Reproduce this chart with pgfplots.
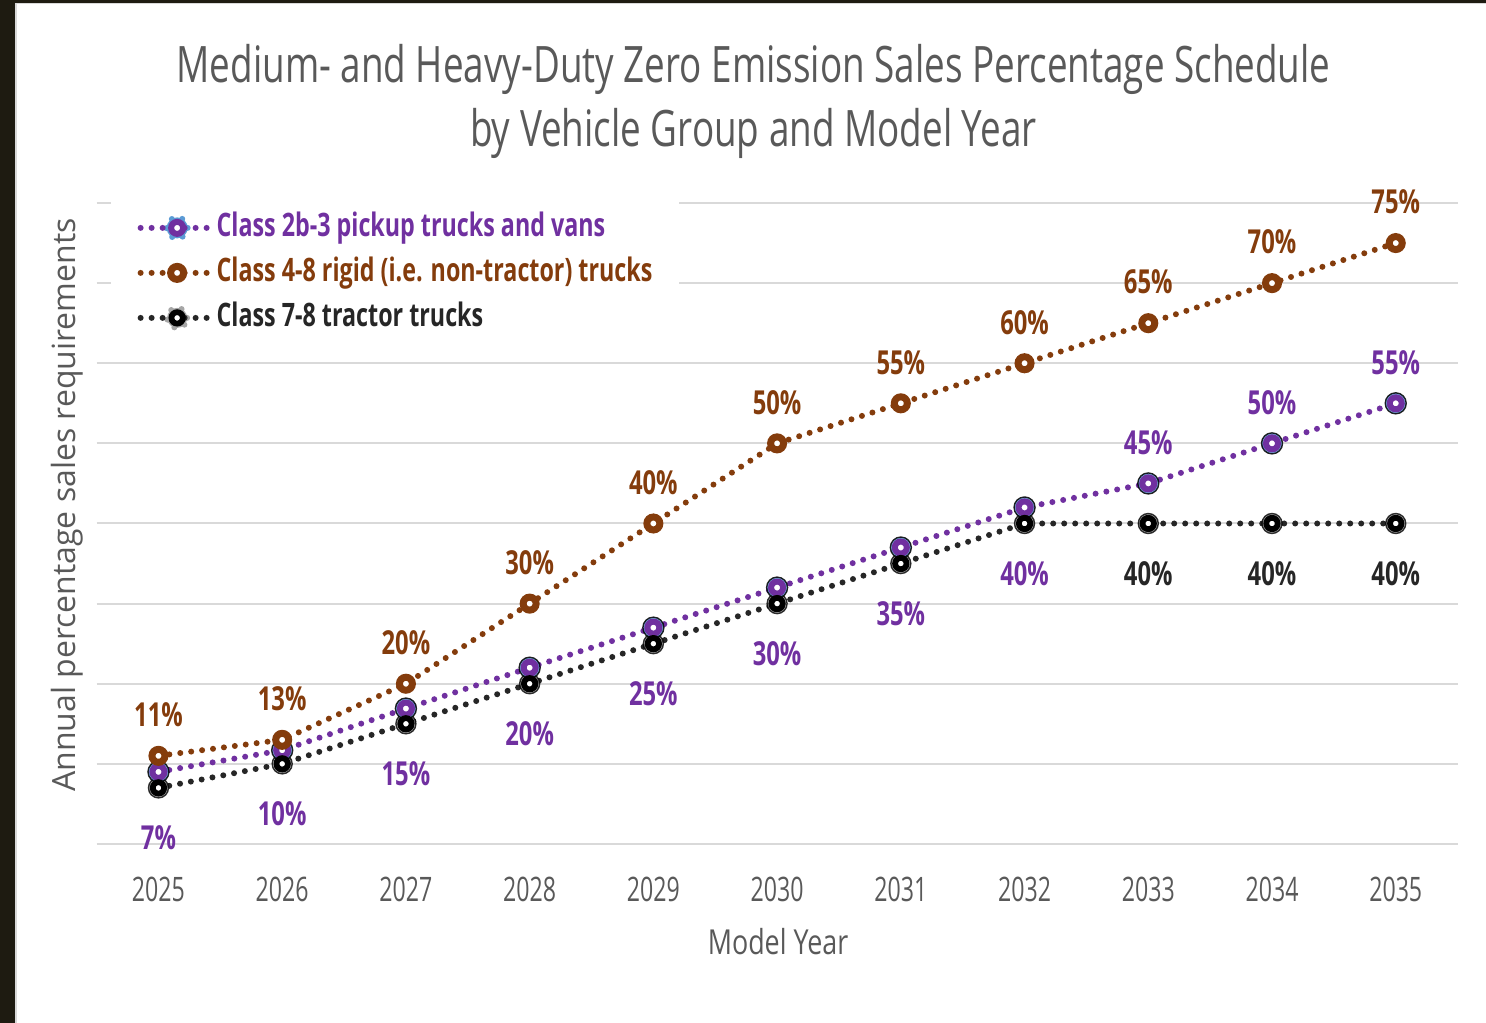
\documentclass[border=0pt]{standalone}
\usepackage{pgfplots}
\pgfplotsset{compat=1.18}
\usepackage{fontspec}
\setmainfont{Open Sans}
\newfontfamily\titlefont[FakeStretch=0.733]{Open Sans}
\newfontfamily\tickfont[FakeStretch=0.686]{Open Sans}
\newfontfamily\xlabfont[FakeStretch=0.78]{Open Sans}
\newfontfamily\ylabfont[FakeStretch=1.0]{Open Sans}
\newfontfamily\boldfont[FakeStretch=0.72]{Open Sans}
\definecolor{purp}{HTML}{7030A0}
\definecolor{brn}{HTML}{843C0C}
\definecolor{blk}{HTML}{262626}
\definecolor{txtgray}{HTML}{595959}
\definecolor{gridc}{HTML}{D9D9D9}
\definecolor{glowblue}{HTML}{5B9BD5}
\definecolor{glowgray}{HTML}{A6A6A6}
\definecolor{framec}{HTML}{1E1B11}

\pgfplotsset{
  baseleg/.style={legend image code/.code={\draw[mark repeat=2,mark phase=2,##1] plot coordinates {(0cm,0cm) (0.365cm,0cm) (0.73cm,0cm)};}},
  purpleg/.style={legend image code/.code={\fill[glowblue] (0.365cm,0cm) circle (0.105cm);\draw[mark repeat=2,mark phase=2,##1] plot coordinates {(0cm,0cm) (0.365cm,0cm) (0.73cm,0cm)};}},
  blkleg/.style={legend image code/.code={\fill[glowgray] (0.365cm,0cm) circle (0.1cm);\draw[mark repeat=2,mark phase=2,##1] plot coordinates {(0cm,0cm) (0.365cm,0cm) (0.73cm,0cm)};}},
}

\pgfplotstableread{
year val
2025 9
2026 11.7
2027 16.9
2028 22
2029 27
2030 32
2031 37
2032 42
2033 45
2034 50
2035 55
}\purpdata
\pgfplotstableread{
year val
2025 11
2026 13
2027 20
2028 30
2029 40
2030 50
2031 55
2032 60
2033 65
2034 70
2035 75
}\brndata
\pgfplotstableread{
year val
2025 7
2026 10
2027 15
2028 20
2029 25
2030 30
2031 35
2032 40
2033 40
2034 40
2035 40
}\blkdata
\pgfplotstableread{
year val
2025 7
2026 10
2027 15
2028 20
2029 25
2030 30
2031 35
2032 40
}\purplabdata
\pgfplotstableread{
year val
2033 40
2034 40
2035 40
}\blklabdata
\pgfplotstableread{
year val
2033 45
2034 50
2035 55
}\purplabtop

\begin{document}
\begin{tikzpicture}[x=1cm,y=1cm]
\path[use as bounding box] (0,0) rectangle (14.86,10.23);
\fill[framec] (0,0) rectangle (0.15,10.23);
\fill[framec] (0,10.20) rectangle (14.86,10.23);
\draw[gray!30, line width=0.015cm] (0.158,0) -- (0.158,10.195) -- (14.86,10.195);

\node[font=\titlefont\fontsize{14.3}{17}\selectfont, text=txtgray, anchor=base] at (7.535,9.40) {Medium- and Heavy-Duty Zero Emission Sales Percentage Schedule};
\node[font=\titlefont\fontsize{14.3}{17}\selectfont, text=txtgray, anchor=base] at (7.535,8.76) {by Vehicle Group and Model Year};
\node[font=\ylabfont\fontsize{9.1}{11}\selectfont, text=txtgray, anchor=base, rotate=90] at (0.75,5.18) {Annual percentage sales requirements};
\node[font=\xlabfont\fontsize{9.8}{12}\selectfont, text=txtgray, anchor=base] at (7.78,0.68) {Model Year};

\begin{axis}[
  at={(0.966cm,1.79cm)}, anchor=south west, scale only axis,
  width=13.61cm, height=6.41cm,
  xmin=2024.5, xmax=2035.5, ymin=0, ymax=80,
  clip=false,
  axis line style={draw=none},
  major tick length=0pt,
  xtick={2025,2026,...,2035},
  ytick={0,10,...,80}, yticklabels={},
  ymajorgrids, grid style={gridc, line width=0.02cm},
  /pgf/number format/assume math mode=true,
  /pgf/number format/1000 sep={},
  xticklabel style={font=\tickfont\fontsize{9.6}{12}\selectfont, text=txtgray, anchor=base, yshift=-0.58cm},
  legend style={at={(0.0098,1.020)}, anchor=north west, draw=none, fill=white,
    font=\boldfont\bfseries\fontsize{9.2}{11}\selectfont, inner xsep=0.27cm, inner ysep=0.21cm,
    row sep=0.13cm,
    nodes={inner sep=0pt, text height=0.25cm, text depth=0.07cm},
    /tikz/every even column/.append style={column sep=0.07cm}},
  legend cell align=left,
  baseleg,
  lab/.style={draw=none, mark=none, forget plot, nodes near coords={\pgfmathprintnumber{\pgfplotspointmeta}\%}, point meta=y,
    every node near coord/.append style={font=\boldfont\bfseries\fontsize{9.4}{11}\selectfont, anchor=center, inner sep=0pt}},
  ser/.style={line width=0.06cm, dash pattern=on 0pt off 0.11cm, line cap=round, mark=*},
]
% black glow
\addplot[forget plot, only marks, mark=*, mark size=0.1cm, mark options={fill=glowgray, draw=none, opacity=0.8}] table[x=year,y=val] {\blkdata};
% purple glow
\addplot[forget plot, only marks, mark=*, mark size=0.105cm, mark options={fill=glowblue, draw=none, opacity=0.85}] table[x=year,y=val] {\purpdata};

\addplot[purp, ser, mark size=0.06cm, mark options={solid, fill=white, draw=purp, line width=0.06cm}, purpleg]
  table[x=year,y=val] {\purpdata};
\addlegendentry{\textcolor{purp}{Class 2b-3 pickup trucks and vans}}

\addplot[brn, ser, mark size=0.065cm, mark options={solid, fill=white, draw=brn, line width=0.07cm}]
  table[x=year,y=val] {\brndata};
\addlegendentry{\textcolor{brn}{Class 4-8 rigid (i.e. non-tractor) trucks}}

\addplot[blk, ser, mark size=0.057cm, mark options={solid, fill=white, draw=black, line width=0.058cm}, blkleg]
  table[x=year,y=val] {\blkdata};
\addlegendentry{\textcolor{blk}{Class 7-8 tractor trucks}}

% labels
\addplot[lab, every node near coord/.append style={text=brn, yshift=0.41cm}] table[x=year,y=val] {\brndata};
\addplot[lab, every node near coord/.append style={text=purp, yshift=0.41cm}] table[x=year,y=val] {\purplabtop};
\addplot[lab, every node near coord/.append style={text=purp, yshift=-0.50cm}] table[x=year,y=val] {\purplabdata};
\addplot[lab, every node near coord/.append style={text=blk, yshift=-0.50cm}] table[x=year,y=val] {\blklabdata};
\end{axis}
\end{tikzpicture}
\end{document}
